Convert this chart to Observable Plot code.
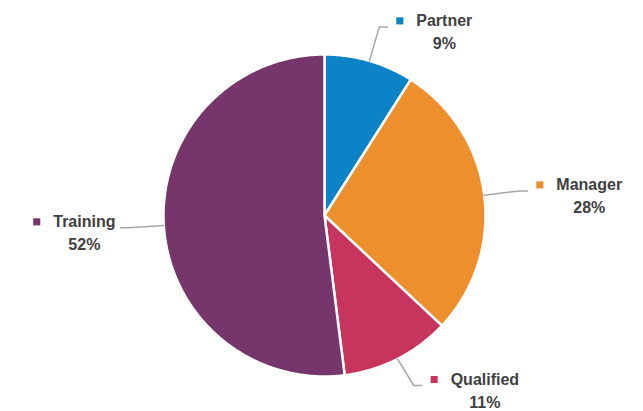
<!DOCTYPE html>
<html>
<head>
<meta charset="utf-8">
<script src="https://cdn.jsdelivr.net/npm/d3@7"></script>
<script src="https://cdn.jsdelivr.net/npm/@observablehq/plot@0.6"></script>
<style>
  html, body { margin: 0; padding: 0; background: #ffffff; }
  #chart svg { display: block; }
</style>
</head>
<body>
<div id="chart"></div>
<script>
const categories = ["Partner", "Manager", "Qualified", "Training"];
const values = [9, 28, 11, 52];
const colors = ["#0b83c6", "#ed8f2c", "#c7355f", "#76366b"];

const W = 643, H = 411;
const CX = 324, CY = 215, R = 161;
const FONT = "bold 16px 'Liberation Sans', Arial, sans-serif";

function measure(t) {
  const ctx = document.createElement("canvas").getContext("2d");
  ctx.font = FONT;
  return ctx.measureText(t).width;
}

const total = d3.sum(values);
const slicePts = [];
const labels = [];
const leaders = [];
// keep label blocks inside the frame
const yMaxPx = H - 26, yMinPx = 23;
let acc = 0;
values.forEach((v, i) => {
  const a0 = acc / total * 2 * Math.PI;
  const a1 = (acc + v) / total * 2 * Math.PI;
  acc += v;
  const name = categories[i];
  slicePts.push({name, x: 0, y: 0});
  const n = Math.max(8, Math.ceil((a1 - a0) * 80));
  for (let k = 0; k <= n; k++) {
    const a = a0 + (a1 - a0) * k / n;
    slicePts.push({name, x: Math.sin(a), y: Math.cos(a)});
  }
  const m = (a0 + a1) / 2;
  const sx = Math.sin(m), sy = Math.cos(m);
  const ex = 1.22 * sx;
  let ey = 1.22 * sy;
  ey = Math.min(ey, (CY - yMinPx) / R);
  ey = Math.max(ey, (CY - yMaxPx) / R);
  const side = sx >= 0 ? 1 : -1;
  const lx = ex + side * 8 / R, ly = ey;
  leaders.push({name, x: sx, y: sy}, {name, x: ex, y: ey}, {name, x: lx, y: ly});
  const w = measure(name) / R;
  const nameStart = side > 0 ? lx + 29 / R : lx - 5 / R - w;
  labels.push({
    name, pct: v + "%",
    y: ly,
    nameStart,
    nameMid: nameStart + w / 2,
    markerX: nameStart - 16.5 / R
  });
});

const plot = Plot.plot({
  width: W,
  height: H,
  margin: 0,
  x: {domain: [-CX / R, (W - CX) / R], range: [0, W], axis: null},
  y: {domain: [(CY - H) / R, CY / R], range: [H, 0], axis: null},
  color: {domain: categories, range: colors},
  style: {background: "#ffffff"},
  marks: [
    Plot.line(slicePts, {x: "x", y: "y", z: "name", fill: "name", stroke: "#ffffff", strokeWidth: 2.5, curve: "linear-closed", strokeLinejoin: "round"}),
    Plot.line(leaders, {x: "x", y: "y", z: "name", stroke: "#a6a6a6", strokeWidth: 1.5}),
    Plot.dot(labels, {x: "markerX", y: "y", dy: -6, symbol: "square", r: 4, fill: "name", stroke: null}),
    Plot.text(labels, {x: "nameStart", y: "y", dy: -6, text: "name", textAnchor: "start", fill: "#404040", fontSize: 16, fontWeight: "bold", fontFamily: "'Liberation Sans', Arial, sans-serif"}),
    Plot.text(labels, {x: "nameMid", y: "y", dy: 17, text: "pct", textAnchor: "middle", fill: "#404040", fontSize: 16, fontWeight: "bold", fontFamily: "'Liberation Sans', Arial, sans-serif"})
  ]
});
document.getElementById("chart").appendChild(plot);
</script>
</body>
</html>
